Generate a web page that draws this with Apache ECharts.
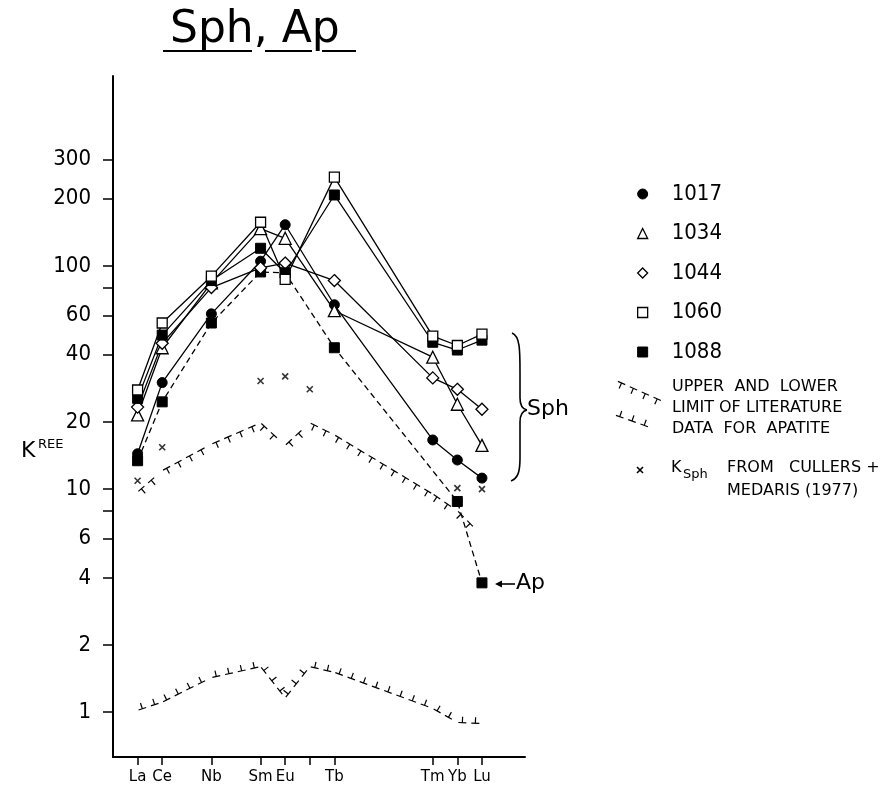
<!DOCTYPE html>
<html>
<head>
<meta charset="utf-8">
<title>Sph, Ap</title>
<script src="https://cdn.jsdelivr.net/npm/echarts@6/dist/echarts.min.js"></script>
<style>
  html, body { margin: 0; padding: 0; background: #fff; }
  #chart { width: 886px; height: 792px; }
</style>
</head>
<body>
<div id="chart"></div>
<script>
// REE positions by atomic number, labels as printed on the figure
const elemNames = ['La', 'Ce', 'Nb', 'Sm', 'Eu', 'Tb', 'Tm', 'Yb', 'Lu']
const elemX = [57, 58, 60, 62, 63, 65, 69, 70, 71]
const xTickX = [57, 58, 60, 62, 63, 64, 65, 69, 70, 71]
const yTicks = [1, 2, 4, 6, 8, 10, 20, 40, 60, 80, 100, 200, 300]
const yLabels = [1, 2, 4, 6, 10, 20, 40, 60, 100, 200, 300]

// sphene partition coefficients per sample
const s1017 = [14.4, 30, 61, 105, 153, 67, 16.6, 13.5, 11.2]
const s1034 = [21.5, 43, 84, 147, 133, 63, 39, 24, 15.7]
const s1044 = [23.3, 45, 80, 98, 103, 86, 31.5, 28, 22.8]
const s1060 = [27.8, 55.5, 90, 157, 87, 250, 48.5, 44, 49.5]
const s1088 = [25.5, 49, 86, 120, 93, 208, 45.5, 42, 46.5]

// apatite 1088 (dashed)
const apX = [57, 58, 60, 62, 63, 65, 70, 71]
const ap1088 = [13.4, 24.6, 55.5, 94, 93, 43, 8.8, 3.8]

// K Sph from Cullers + Medaris (1977)
const cmX = [57, 58, 62, 63, 64, 70, 71]
const cmVal = [10.9, 15.4, 30.5, 32, 28, 10.1, 10.0]

// literature limits for apatite
const limX = [57, 58, 60, 62, 63, 64, 65, 69, 70, 71]
const upperLim = [9.7, 12.1, 15.9, 19.8, 15.7, 19.8, 17.5, 9.5, 8.0, 6.2]
const lowerLim = [1.02, 1.11, 1.43, 1.6, 1.16, 1.6, 1.51, 1.04, 0.9, 0.89]

const FONT = 'DejaVu Sans Condensed, DejaVu Sans, sans-serif'
const FONT2 = 'DejaVu Sans, sans-serif'

const pairs = (xs, ys) => xs.map((x, i) => [x, ys[i]])

// dashes with a short stem in the middle of each dash (dir +1 stem down, -1 stem up)
function hatchPieces(p0, p1, dir) {
  const out = []
  const dx = p1[0] - p0[0]
  const dy = p1[1] - p0[1]
  const len = Math.sqrt(dx * dx + dy * dy)
  if (len < 1) return out
  const ux = dx / len
  const uy = dy / len
  // normal pointing down on screen
  let nx = -uy
  let ny = ux
  if (ny < 0) { nx = -nx; ny = -ny }
  nx *= dir
  ny *= dir
  const dash = 8
  const gap = 5
  const stem = 6
  for (let t = 1; t + dash <= len; t += dash + gap) {
    const a = [p0[0] + ux * t, p0[1] + uy * t]
    const b = [p0[0] + ux * (t + dash), p0[1] + uy * (t + dash)]
    const m = [(a[0] + b[0]) / 2, (a[1] + b[1]) / 2]
    out.push({ type: 'line', shape: { x1: a[0], y1: a[1], x2: b[0], y2: b[1] },
      style: { stroke: '#000', lineWidth: 1.2 } })
    out.push({ type: 'line', shape: { x1: m[0], y1: m[1], x2: m[0] + nx * stem, y2: m[1] + ny * stem },
      style: { stroke: '#000', lineWidth: 1.2 } })
  }
  return out
}

function hatchSeries(name, xs, ys, dir) {
  return {
    name: name,
    type: 'custom',
    coordinateSystem: 'cartesian2d',
    data: pairs(xs, ys),
    silent: true,
    z: 1,
    renderItem: (params, api) => {
      const i = params.dataIndexInside
      if (i >= params.dataInsideLength - 1) return
      const p0 = api.coord([api.value(0, i), api.value(1, i)])
      const p1 = api.coord([api.value(0, i + 1), api.value(1, i + 1)])
      return { type: 'group', children: hatchPieces(p0, p1, dir) }
    }
  }
}

const hollow = { color: '#fff', borderColor: '#000', borderWidth: 1.3 }
const filled = { color: '#000', borderColor: '#000', borderWidth: 1 }

function sample(name, ys, symbol, size, style) {
  return {
    name: name,
    type: 'line',
    data: pairs(elemX, ys),
    symbol: symbol,
    symbolSize: size,
    showAllSymbol: true,
    itemStyle: style,
    lineStyle: { color: '#000', width: 1.3 },
    z: 3
  }
}

const stroke = { stroke: '#000', lineWidth: 1.6, fill: null }
const seg = (x1, y1, x2, y2) => ({ type: 'line', shape: { x1, y1, x2, y2 }, style: stroke })
const curve = (x1, y1, cpx1, cpy1, cpx2, cpy2, x2, y2) =>
  ({ type: 'bezierCurve', shape: { x1, y1, cpx1, cpy1, cpx2, cpy2, x2, y2 }, style: stroke })

// small legend samples for the hatched lines, drawn in pixels
const legendHatch = [].concat(
  hatchPieces([617, 381], [662, 401], 1),
  hatchPieces([615, 415], [660, 431], -1)
)

const chart = echarts.init(document.getElementById('chart'))

chart.setOption({
  animation: false,
  backgroundColor: '#fff',
  textStyle: { fontFamily: FONT },
  grid: { left: 113, right: 361, top: 76, bottom: 35, outerBoundsMode: 'none' },
  xAxis: {
    type: 'value',
    min: 56,
    max: 72.75,
    axisLine: { show: true, onZero: false, lineStyle: { color: '#000', width: 2 } },
    splitLine: { show: false },
    axisTick: { show: true, length: 8, customValues: xTickX, lineStyle: { color: '#000', width: 1.5 } },
    axisLabel: {
      customValues: elemX,
      margin: 13,
      fontSize: 15,
      fontFamily: FONT2,
      color: '#000',
      formatter: (v) => elemNames[elemX.indexOf(Math.round(v))] || ''
    }
  },
  yAxis: {
    type: 'log',
    logBase: 10,
    min: 0.63,
    max: 710,
    axisLine: { show: true, lineStyle: { color: '#000', width: 2 } },
    splitLine: { show: false },
    minorTick: { show: false },
    axisTick: { show: true, length: 10, customValues: yTicks, lineStyle: { color: '#000', width: 1.5 } },
    axisLabel: {
      customValues: yLabels,
      margin: 22,
      fontSize: 22,
      color: '#000',
      fontFamily: FONT,
      formatter: (v) => String(Math.round(v))
    }
  },
  legend: {
    orient: 'vertical',
    left: 632,
    top: 178,
    itemWidth: 10,
    itemHeight: 10,
    itemGap: 17.5,
    selectedMode: false,
    textStyle: { fontSize: 22, color: '#000', fontFamily: FONT, padding: [0, 0, 0, 19] },
    data: [
      { name: '1017', icon: 'circle', itemStyle: filled },
      { name: '1034', icon: 'triangle', itemStyle: hollow },
      { name: '1044', icon: 'diamond', itemStyle: hollow },
      { name: '1060', icon: 'rect', itemStyle: hollow },
      { name: '1088', icon: 'rect', itemStyle: filled }
    ]
  },
  series: [
    hatchSeries('upper', limX, upperLim, 1),
    hatchSeries('lower', limX, lowerLim, -1),
    {
      name: 'Cullers',
      type: 'scatter',
      data: pairs(cmX, cmVal),
      symbol: 'path://M0,0L10,10M10,0L0,10',
      symbolSize: 6,
      itemStyle: { color: 'none', borderColor: '#000', borderWidth: 1.6 },
      z: 2
    },
    {
      name: '1088 Ap',
      type: 'line',
      data: pairs(apX, ap1088),
      symbol: 'rect',
      symbolSize: 10,
      itemStyle: filled,
      lineStyle: { color: '#000', width: 1.3, type: [6, 4] },
      z: 3
    },
    sample('1017', s1017, 'circle', 10, filled),
    sample('1034', s1034, 'triangle', 12, hollow),
    sample('1044', s1044, 'diamond', 12, hollow),
    sample('1088', s1088, 'rect', 10, filled),
    sample('1060', s1060, 'rect', 10, hollow)
  ],
  graphic: [
    // title with broken underline
    { type: 'text', left: 170, top: 9, style: { text: 'Sph, Ap', font: '44px ' + FONT2, fill: '#000' } },
    { type: 'line', shape: { x1: 163, y1: 51, x2: 252, y2: 51 }, style: { stroke: '#000', lineWidth: 2 } },
    { type: 'line', shape: { x1: 265, y1: 51, x2: 312, y2: 51 }, style: { stroke: '#000', lineWidth: 2 } },
    { type: 'line', shape: { x1: 322, y1: 51, x2: 356, y2: 51 }, style: { stroke: '#000', lineWidth: 2 } },
    // axis name K^REE
    { type: 'text', left: 21, top: 440, style: { text: 'K', font: '22px ' + FONT2, fill: '#000' } },
    { type: 'text', left: 38, top: 438, style: { text: 'REE', font: '13px ' + FONT2, fill: '#000' } },
    // brace with Sph
    {
      type: 'group',
      children: [
        curve(512, 333, 520, 336, 520, 350, 520, 372),
        seg(520, 372, 520, 398),
        curve(520, 398, 520, 405, 522, 409, 527, 410),
        curve(527, 410, 522, 411, 520, 415, 520, 422),
        seg(520, 422, 520, 458),
        curve(520, 458, 520, 472, 518, 478, 511, 481)
      ]
    },
    { type: 'text', left: 527, top: 398, style: { text: 'Sph', font: '22px ' + FONT2, fill: '#000' } },
    // Ap arrow
    seg(497, 584, 515, 584),
    { type: 'polygon', shape: { points: [[495, 584], [502, 580.5], [502, 587.5]] }, style: { fill: '#000' } },
    { type: 'text', left: 516, top: 572, style: { text: 'Ap', font: '22px ' + FONT2, fill: '#000' } },
    // literature limits note
    { type: 'group', children: legendHatch },
    { type: 'text', left: 672, top: 379, style: { text: 'UPPER  AND  LOWER', font: '16px ' + FONT2, fill: '#000' } },
    { type: 'text', left: 672, top: 400, style: { text: 'LIMIT OF LITERATURE', font: '16px ' + FONT2, fill: '#000' } },
    { type: 'text', left: 672, top: 421, style: { text: 'DATA  FOR  APATITE', font: '16px ' + FONT2, fill: '#000' } },
    // K Sph from Cullers + Medaris
    seg(637, 467, 643, 473),
    seg(643, 467, 637, 473),
    { type: 'text', left: 671, top: 460, style: { text: 'K', font: '16px ' + FONT2, fill: '#000' } },
    { type: 'text', left: 683, top: 468, style: { text: 'Sph', font: '13px ' + FONT2, fill: '#000' } },
    { type: 'text', left: 727, top: 460, style: { text: 'FROM   CULLERS +', font: '16px ' + FONT2, fill: '#000' } },
    { type: 'text', left: 727, top: 483, style: { text: 'MEDARIS (1977)', font: '16px ' + FONT2, fill: '#000' } }
  ]
})

window.addEventListener('resize', () => {
  chart.resize()
})
</script>
</body>
</html>
